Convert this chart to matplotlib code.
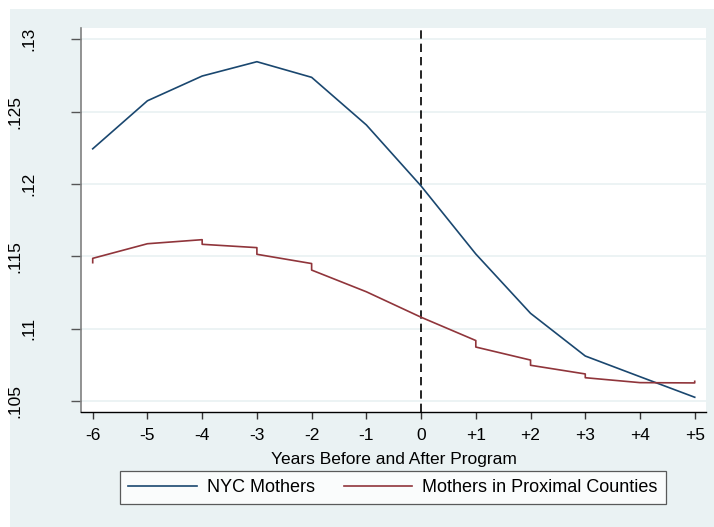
import numpy as np
import matplotlib.pyplot as plt
from matplotlib.patches import Rectangle

plt.rcParams['font.family'] = ['Liberation Sans', 'DejaVu Sans']

# event time
years = [-6, -5, -4, -3, -2, -1, 0, 1, 2, 3, 4, 5]
year_labels = ["-6", "-5", "-4", "-3", "-2", "-1", "0", "+1", "+2", "+3", "+4", "+5"]

# NYC mothers
nyc = [.12243, .12575, .12746, .12845, .12737, .12408, .11986,
       .11516, .11106, .10811, .10668, .10526]

# proximal counties (small jumps at each year)
prox_x = [-6, -6, -5, -4, -4, -3, -3, -2, -2, -1, 0, 1, 1, 2, 2, 3, 3, 4, 5, 5]
prox = [.11456, .11486, .11587, .11615, .11583, .11560, .11514, .11450, .11405,
        .11255, .11079, .10918, .10873, .10783, .10747, .10687, .10661, .10627,
        .10625, .10636]

yticks = [.105, .11, .115, .12, .125, .13]
ytick_labels = [".105", ".11", ".115", ".12", ".125", ".13"]

navy = "#1A476F"
maroon = "#90353B"
bg = "#EAF2F3"

fs = 12.5

fig = plt.figure(figsize=(7.14, 5.27), dpi=100)
fig.patches.append(Rectangle((10/714, 0), 704/714, 518/527, transform=fig.transFigure,
                             facecolor=bg, edgecolor='none', zorder=-10))

ax = fig.add_axes([81/714, 1 - 412.3/527, (706 - 81)/714, (412.3 - 27.7)/527])
ax.set_facecolor("white")

for yv in yticks:
    ax.axhline(yv, color=bg, linewidth=1.3, zorder=1)

ax.plot(years, nyc, color=navy, linewidth=1.2, zorder=3, label="NYC Mothers")
ax.plot(prox_x, prox, color=maroon, linewidth=1.2, zorder=3, label="Mothers in Proximal Counties")
ax.axvline(0, color='black', linestyle=(0, (5, 3)), linewidth=1.2, zorder=2)

ax.set_xlim(-6.214, 5.206)
ax.set_ylim(.10422, .1308)

ax.set_xticks(years)
ax.set_xticklabels(year_labels, fontsize=fs)
ax.set_yticks(yticks)
ax.set_yticklabels(ytick_labels, fontsize=fs, rotation=90, va='center')
ax.tick_params(axis='x', length=5, width=1, pad=6.5, color='#333333')
ax.tick_params(axis='y', length=7, width=1, color='#555555')
for i, t in enumerate(ax.yaxis.get_major_ticks()):
    t.set_pad(35 if i % 2 == 0 else 25)

ax.spines['top'].set_visible(False)
ax.spines['right'].set_visible(False)
ax.spines['left'].set_color('#808080')
ax.spines['left'].set_linewidth(1.2)
ax.spines['bottom'].set_color('black')
ax.spines['bottom'].set_linewidth(1.0)

ax.set_xlabel("Years Before and After Program", fontsize=fs, labelpad=6)

leg = fig.legend(loc='center', bbox_to_anchor=(392.8/714, 1 - 487.5/527), ncol=2,
                 fontsize=13, frameon=True, fancybox=False, handlelength=3.8,
                 handletextpad=0.55, columnspacing=1.6, borderpad=0.45)
leg.get_frame().set_edgecolor('#333333')
leg.get_frame().set_linewidth(0.9)

fig.savefig("out.png", dpi=100, facecolor='white')
